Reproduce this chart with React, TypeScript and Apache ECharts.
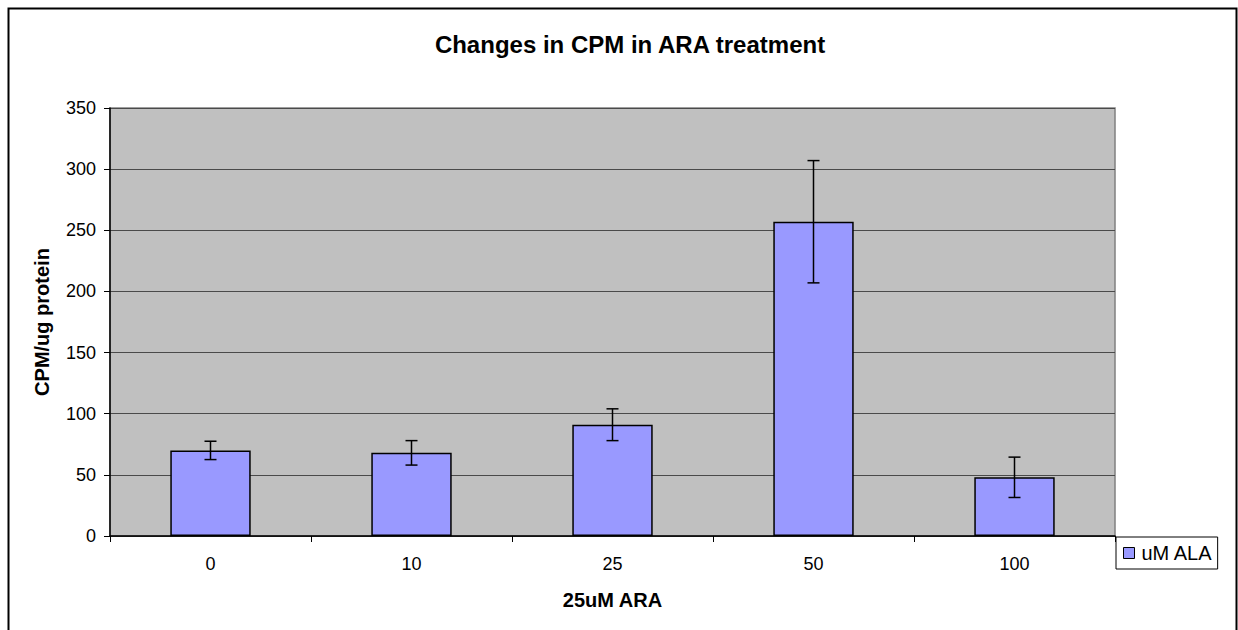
import React, { useEffect, useRef } from "react";
import * as echarts from "echarts";

const categories = ["0", "10", "25", "50", "100"];
const values = [70, 68, 91, 257, 48];
const errors = [7.5, 10, 13, 50, 16.5];
const yTicks = { min: 0, max: 350, interval: 50 };
const seriesName = "uM ALA";
const title = "Changes in CPM in ARA treatment";
const xName = "25uM ARA";
const yName = "CPM/ug protein";

const FONT = "Liberation Sans, Arial, sans-serif";

export default function App() {
  const ref = useRef<HTMLDivElement>(null);
  useEffect(() => {
    if (!ref.current) return;
    const chart = echarts.init(ref.current, null, { renderer: "svg" });
    const errData = values.map((v, i) => [i, v - errors[i], v + errors[i]]);
    chart.setOption({
      animation: false,
      backgroundColor: "#ffffff",
      textStyle: { fontFamily: FONT },
      title: {
        text: title,
        left: 625,
        top: 27,
        textAlign: "center",
        textStyle: { fontFamily: FONT, fontSize: 24, fontWeight: "bold", color: "#000" },
      },
      grid: {
        left: 110,
        top: 108,
        right: 123,
        bottom: 94,
        show: true,
        backgroundColor: "#C0C0C0",
        borderColor: "#808080",
        borderWidth: 1.5,
      },
      legend: {
        show: true,
        left: 1116,
        top: 537,
        orient: "vertical",
        padding: [6, 5, 6, 7],
        itemWidth: 11,
        itemHeight: 11,
        itemGap: 5,
        backgroundColor: "#fff",
        borderColor: "#000",
        borderWidth: 1,
        icon: "rect",
        data: [{ name: seriesName, itemStyle: { borderColor: "#000", borderWidth: 1 } }],
        textStyle: { fontFamily: FONT, fontSize: 20, color: "#000", padding: [0, 0, 0, 2] },
      },
      xAxis: {
        type: "category",
        data: categories,
        name: xName,
        nameLocation: "middle",
        nameGap: 54,
        nameTextStyle: { fontFamily: FONT, fontSize: 20, fontWeight: "bold", color: "#000" },
        axisLine: { lineStyle: { color: "#000", width: 1.5 } },
        axisTick: { show: true, alignWithLabel: false, length: 6, lineStyle: { color: "#000" } },
        axisLabel: { fontFamily: FONT, fontSize: 18, color: "#000", margin: 19 },
        splitLine: { show: false },
      },
      yAxis: {
        type: "value",
        min: yTicks.min,
        max: yTicks.max,
        interval: yTicks.interval,
        name: yName,
        nameLocation: "middle",
        nameGap: 58,
        nameTextStyle: { fontFamily: FONT, fontSize: 20, fontWeight: "bold", color: "#000" },
        axisLine: { show: true, lineStyle: { color: "#000", width: 1.5 } },
        axisTick: { show: true, length: 6, lineStyle: { color: "#000" } },
        axisLabel: { fontFamily: FONT, fontSize: 18, color: "#000", margin: 14 },
        splitLine: { show: true, lineStyle: { color: "#4a4a4a", width: 1.2 } },
      },
      series: [
        {
          name: seriesName,
          type: "bar",
          data: values,
          barWidth: "40%",
          itemStyle: { color: "#9999FF", borderColor: "#000", borderWidth: 1.5 },
        },
        {
          type: "custom",
          name: "err",
          data: errData,
          z: 10,
          renderItem: (params: any, api: any) => {
            const x = api.value(0);
            const lo = api.coord([x, api.value(1)]);
            const hi = api.coord([x, api.value(2)]);
            const cap = 6;
            const style = { stroke: "#000", lineWidth: 1.5 };
            return {
              type: "group",
              children: [
                { type: "line", shape: { x1: hi[0], y1: hi[1], x2: lo[0], y2: lo[1] }, style },
                { type: "line", shape: { x1: hi[0] - cap, y1: hi[1], x2: hi[0] + cap, y2: hi[1] }, style },
                { type: "line", shape: { x1: lo[0] - cap, y1: lo[1], x2: lo[0] + cap, y2: lo[1] }, style },
              ],
            };
          },
        },
      ],
      graphic: [
        {
          type: "rect",
          silent: true,
          shape: { x: 8.5, y: 8.5, width: 1228, height: 700 },
          style: { fill: "none", stroke: "#000", lineWidth: 2 },
        },
      ],
    });
    return () => chart.dispose();
  }, []);
  return (
    <div
      ref={ref}
      style={{ position: "absolute", left: 0, top: 0, width: 1238, height: 630 }}
    />
  );
}
